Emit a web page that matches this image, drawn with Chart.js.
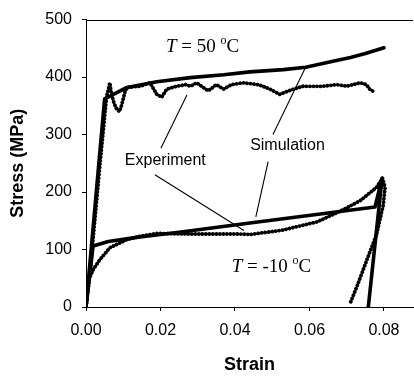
<!DOCTYPE html>
<html><head><meta charset="utf-8">
<script src="https://cdn.jsdelivr.net/npm/chart.js@4.4.1/dist/chart.umd.min.js"></script>
<style>html,body{margin:0;padding:0;background:#fff}#wrap{width:414px;height:378px;position:relative}</style>
</head><body><div id="wrap"><canvas id="c"></canvas></div>
<script>
// ---- data ----
const xTicks = [0, 0.02, 0.04, 0.06, 0.08];
const yTicks = [0, 100, 200, 300, 400, 500];

const sim50Strain = [0, 0.005, 0.011, 0.019, 0.028, 0.037, 0.044, 0.053, 0.059, 0.066, 0.071, 0.075, 0.080];
const sim50Stress = [0, 362, 382, 392, 399, 404, 409, 413, 417, 427, 434, 441, 451];

const exp50Strain = [0, 0.001, 0.002, 0.003, 0.004, 0.005, 0.0055, 0.0064, 0.0068, 0.0075, 0.0082, 0.0090, 0.0096, 0.0105, 0.011, 0.0145, 0.0172, 0.019, 0.0203, 0.0217, 0.0243, 0.027, 0.028, 0.0297, 0.0315, 0.0328, 0.035, 0.0369, 0.0391, 0.0422, 0.0449, 0.0467, 0.0494, 0.052, 0.0557, 0.0583, 0.0637, 0.0673, 0.070, 0.0736, 0.0753, 0.0762, 0.0776];
const exp50Stress = [0, 55, 125, 195, 265, 330, 365, 390, 372, 355, 345, 340, 352, 375, 382, 384, 390, 370, 365, 379, 384, 387, 384, 390, 382, 376, 387, 379, 387, 390, 388, 386, 379, 370, 379, 384, 384, 387, 384, 390, 387, 379, 373];

const simM10Strain = [0, 0.0019, 0.006, 0.0145, 0.025, 0.044, 0.0776, 0.0795, 0.0758];
const simM10Stress = [0, 106, 114, 122, 130, 146, 174, 224, 0];

const expM10Strain = [0, 0.0006, 0.002, 0.0038, 0.0064, 0.0109, 0.0145, 0.019, 0.028, 0.0413, 0.044, 0.053, 0.062, 0.069, 0.0736, 0.078, 0.0796, 0.0803, 0.0798, 0.078, 0.0753, 0.0727, 0.0709];
const expM10Stress = [0, 46, 66, 83, 103, 117, 123, 128, 127, 127, 126, 134, 148, 169, 185, 208, 224, 208, 177, 126, 80, 35, 6];

// ---- annotation texts (positions in data units) ----
const annoLabels = [
  {kind:'temp', value:'50', x:0.0313, y:453},
  {kind:'temp', value:'-10', x:0.0498, y:69},
  {kind:'plain', text:'Experiment', x:0.0213, y:255},
  {kind:'plain', text:'Simulation', x:0.0541, y:281}
];
const annoLines = [
  [0.0201, 276, 0.0271, 369],
  [0.0185, 230, 0.0424, 133],
  [0.0502, 300, 0.0588, 415],
  [0.0489, 253, 0.0456, 157]
];

function pts(xs, ys){ return xs.map((x,i)=>({x:x, y:ys[i]})); }

const simStyle = {borderColor:'#000', borderWidth:3.6, pointRadius:0, showLine:true, tension:0, borderCapStyle:'round', borderJoinStyle:'round', fill:false};
const expStyle = {borderColor:'#000', borderWidth:3.8, pointRadius:0, showLine:true, tension:0, borderDash:[0.1, 3.4], borderCapStyle:'round', fill:false};

const annoPlugin = {
  id:'anno',
  afterDatasetsDraw(chart){
    const ctx = chart.ctx, xs = chart.scales.x, ys = chart.scales.y, ca = chart.chartArea;
    ctx.save();
    // top frame line
    ctx.strokeStyle = '#000'; ctx.lineWidth = 1;
    ctx.beginPath(); ctx.moveTo(ca.left, Math.round(ca.top)+0.5); ctx.lineTo(ca.right, Math.round(ca.top)+0.5); ctx.stroke();
    // pointer lines
    ctx.lineWidth = 1.1;
    annoLines.forEach(l=>{
      ctx.beginPath();
      ctx.moveTo(xs.getPixelForValue(l[0]), ys.getPixelForValue(l[1]));
      ctx.lineTo(xs.getPixelForValue(l[2]), ys.getPixelForValue(l[3]));
      ctx.stroke();
    });
    ctx.fillStyle = '#000';
    ctx.textBaseline = 'middle';
    annoLabels.forEach(a=>{
      const cx = xs.getPixelForValue(a.x), cy = ys.getPixelForValue(a.y);
      if (a.kind === 'plain'){
        ctx.font = '16px "Liberation Sans", Arial, sans-serif';
        ctx.textAlign = 'center';
        ctx.fillText(a.text, cx, cy);
      } else {
        const fI = 'italic 19px "Liberation Serif", "Times New Roman", serif';
        const fR = '19px "Liberation Serif", "Times New Roman", serif';
        const fS = '12px "Liberation Serif", "Times New Roman", serif';
        const parts = [
          {t:'T', f:fI, dy:0},
          {t:' = ' + a.value + ' ', f:fR, dy:0},
          {t:'o', f:fS, dy:-6},
          {t:'C', f:fR, dy:0}
        ];
        let w = 0;
        parts.forEach(p=>{ ctx.font = p.f; p.w = ctx.measureText(p.t).width; w += p.w; });
        let x = cx - w/2;
        ctx.textAlign = 'left';
        parts.forEach(p=>{ ctx.font = p.f; ctx.fillText(p.t, x, cy + p.dy); x += p.w; });
      }
    });
    ctx.restore();
  }
};

new Chart(document.getElementById('c'), {
  type:'scatter',
  data:{ datasets:[
    Object.assign({label:'Simulation 50', data:pts(sim50Strain, sim50Stress)}, simStyle),
    Object.assign({label:'Experiment 50', data:pts(exp50Strain, exp50Stress)}, expStyle),
    Object.assign({label:'Simulation -10', data:pts(simM10Strain, simM10Stress)}, simStyle),
    Object.assign({label:'Experiment -10', data:pts(expM10Strain, expM10Stress)}, expStyle)
  ]},
  options:{
    responsive:true, maintainAspectRatio:false, animation:false, devicePixelRatio:1,
    layout:{padding:{left:0, top:13, right:1, bottom:0}},
    plugins:{legend:{display:false}, tooltip:{enabled:false}},
    scales:{
      x:{
        type:'linear', min:0, max:0.0878,
        afterFit(s){ s.height = 71; },
        afterBuildTicks(s){ s.ticks = xTicks.map(v=>({value:v})); },
        ticks:{ color:'#000', font:{family:'"Liberation Sans", Arial, sans-serif', size:16}, padding:10, maxRotation:0, autoSkip:false, callback:v=>Number(v).toFixed(2) },
        grid:{ drawOnChartArea:false, drawTicks:true, tickLength:4, color:'#000' },
        border:{ display:true, color:'#000', width:1 },
        title:{ display:true, text:'Strain', color:'#000', font:{family:'"Liberation Sans", Arial, sans-serif', size:18, weight:'bold'}, padding:{top:0, bottom:2} }
      },
      y:{
        type:'linear', min:0, max:500,
        afterFit(s){ s.width = 86; },
        afterBuildTicks(s){ s.ticks = yTicks.map(v=>({value:v})); },
        ticks:{ color:'#000', font:{family:'"Liberation Sans", Arial, sans-serif', size:16}, padding:10, autoSkip:false },
        grid:{ drawOnChartArea:false, drawTicks:true, tickLength:4, color:'#000' },
        border:{ display:true, color:'#000', width:1 },
        title:{ display:true, text:'Stress (MPa)', color:'#000', font:{family:'"Liberation Sans", Arial, sans-serif', size:18, weight:'bold'}, padding:{top:7, bottom:0} }
      }
    }
  },
  plugins:[annoPlugin]
});
</script></body></html>
